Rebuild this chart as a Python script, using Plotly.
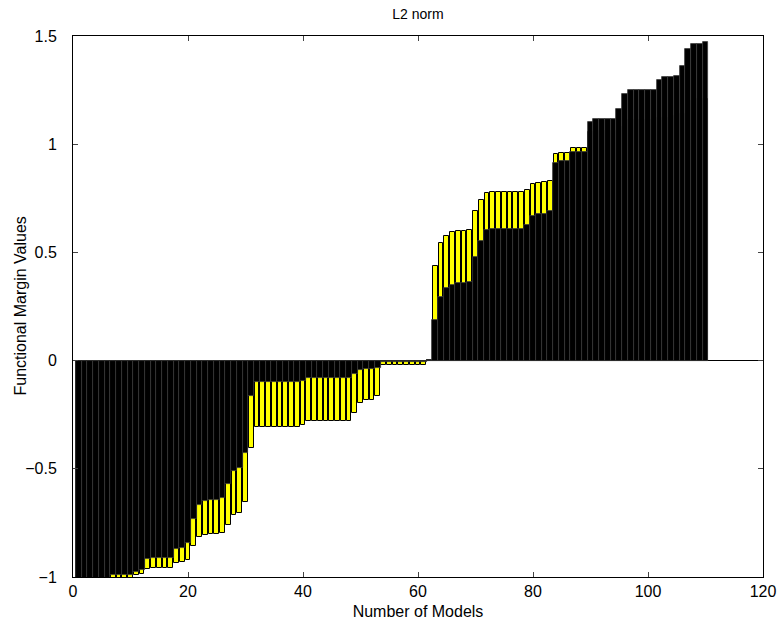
import plotly.graph_objects as go

# Model index (x) for each bar
models = list(range(1, 111))

# Black series (drawn in front, full-width bars)
black_vals = [
    -1.10, -1.10, -1.10, -1.10, -1.10, -1.10,
    -0.990, -0.990, -0.990, -0.990,
    -0.975, -0.968, -0.919,
    -0.911, -0.911, -0.911, -0.911,
    -0.870, -0.867, -0.844, -0.731, -0.665, -0.648, -0.642, -0.642, -0.636,
    -0.571, -0.508, -0.496, -0.425, -0.165,
    -0.100, -0.100, -0.100, -0.100, -0.100, -0.100, -0.100, -0.100,
    -0.092,
    -0.082, -0.082, -0.082, -0.082, -0.082, -0.082, -0.082, -0.082,
    -0.063, -0.045, -0.039, -0.039, -0.032,
    -0.006, -0.006, -0.006, -0.006, -0.006, -0.006, -0.006, -0.006,
    0.004,
    0.189, 0.293, 0.334, 0.351, 0.357, 0.357, 0.362, 0.477, 0.554, 0.604,
    0.607, 0.607, 0.607, 0.607, 0.607, 0.607,
    0.627, 0.667, 0.678, 0.679, 0.693,
    0.911, 0.924, 0.924, 0.962, 0.962, 0.962,
    1.104, 1.116, 1.116, 1.116, 1.116, 1.163, 1.232,
    1.250, 1.250, 1.250, 1.250, 1.250,
    1.298, 1.309, 1.310, 1.316, 1.363, 1.440, 1.463, 1.463, 1.472,
]

# Yellow series (drawn behind, narrower bars)
yellow_vals = [
    -1.15, -1.15, -1.15, -1.15, -1.15, -1.15,
    -1.01, -1.01, -1.01, -1.01,
    -0.990, -0.985, -0.962,
    -0.959, -0.959, -0.959, -0.959,
    -0.936, -0.930, -0.920, -0.858, -0.816, -0.804, -0.802, -0.802, -0.797,
    -0.758, -0.713, -0.705, -0.653, -0.402,
    -0.308, -0.308, -0.308, -0.308, -0.308, -0.308, -0.308, -0.308,
    -0.296,
    -0.278, -0.278, -0.278, -0.278, -0.278, -0.278, -0.278, -0.278,
    -0.242, -0.196, -0.182, -0.180, -0.165,
    -0.020, -0.020, -0.020, -0.020, -0.020, -0.020, -0.020, -0.020,
    0.002,
    0.439, 0.542, 0.577, 0.593, 0.597, 0.597, 0.602, 0.690, 0.742, 0.774,
    0.777, 0.777, 0.777, 0.777, 0.777, 0.777,
    0.790, 0.816, 0.821, 0.824, 0.828,
    0.955, 0.959, 0.959, 0.982, 0.982, 0.982,
    1.055, 1.060, 1.060, 1.060, 1.060, 1.080, 1.108,
    1.110, 1.110, 1.110, 1.110, 1.110,
    1.120, 1.120, 1.130, 1.130, 1.140, 1.198, 1.209, 1.209, 1.209,
]

x_ticks = [0, 20, 40, 60, 80, 100, 120]
y_ticks = [-1, -0.5, 0, 0.5, 1, 1.5]

assert len(black_vals) == len(models) == len(yellow_vals)

FONT = "Liberation Sans, Arial, Helvetica, sans-serif"

fig = go.Figure()
fig.add_trace(go.Bar(
    x=models, y=yellow_vals, width=0.8,
    marker=dict(color="#ffff00", line=dict(color="black", width=1)),
    showlegend=False, hoverinfo="x+y",
))
fig.add_trace(go.Bar(
    x=models, y=black_vals, width=1.0,
    marker=dict(color="black", line=dict(color="#3c3c3c", width=0.8)),
    showlegend=False, hoverinfo="x+y",
))

fig.update_layout(
    width=779, height=623,
    barmode="overlay",
    bargap=0,
    paper_bgcolor="white", plot_bgcolor="white",
    margin=dict(l=73, r=16, t=36, b=46, autoexpand=False),
    font=dict(family=FONT, size=16, color="black"),
    title=dict(text="L2 norm", xref="paper", x=0.5, xanchor="center",
               yref="container", y=1 - 14 / 623, yanchor="middle",
               font=dict(family=FONT, size=14, color="black")),
    xaxis=dict(
        range=[0, 120], tickvals=x_ticks, ticks="inside", ticklen=5,
        showline=True, linecolor="black", linewidth=1, mirror="ticks",
        showgrid=False, zeroline=False, automargin=False,
        tickfont=dict(family=FONT, size=16),
        title=dict(text="Number of Models", standoff=6,
                   font=dict(family=FONT, size=16)),
    ),
    yaxis=dict(
        range=[-1, 1.5], tickvals=y_ticks, ticks="inside", ticklen=5,
        showline=True, linecolor="black", linewidth=1, mirror="ticks",
        showgrid=False, zeroline=True, zerolinecolor="black", zerolinewidth=1,
        automargin=False, ticklabelstandoff=12,
        tickfont=dict(family=FONT, size=16),
    ),
    annotations=[dict(
        text="Functional Margin Values", textangle=-90,
        xref="paper", yref="paper", x=(20 - 73) / 690, y=0.5,
        xanchor="center", yanchor="middle", showarrow=False,
        font=dict(family=FONT, size=16, color="black"),
    )],
)

# Remove the default 8px page margin so the figure fills the window exactly.
fig.write_html(
    "out.html",
    config={"displayModeBar": False},
    post_script="document.body.style.margin='0';document.body.style.overflow='hidden';",
)
